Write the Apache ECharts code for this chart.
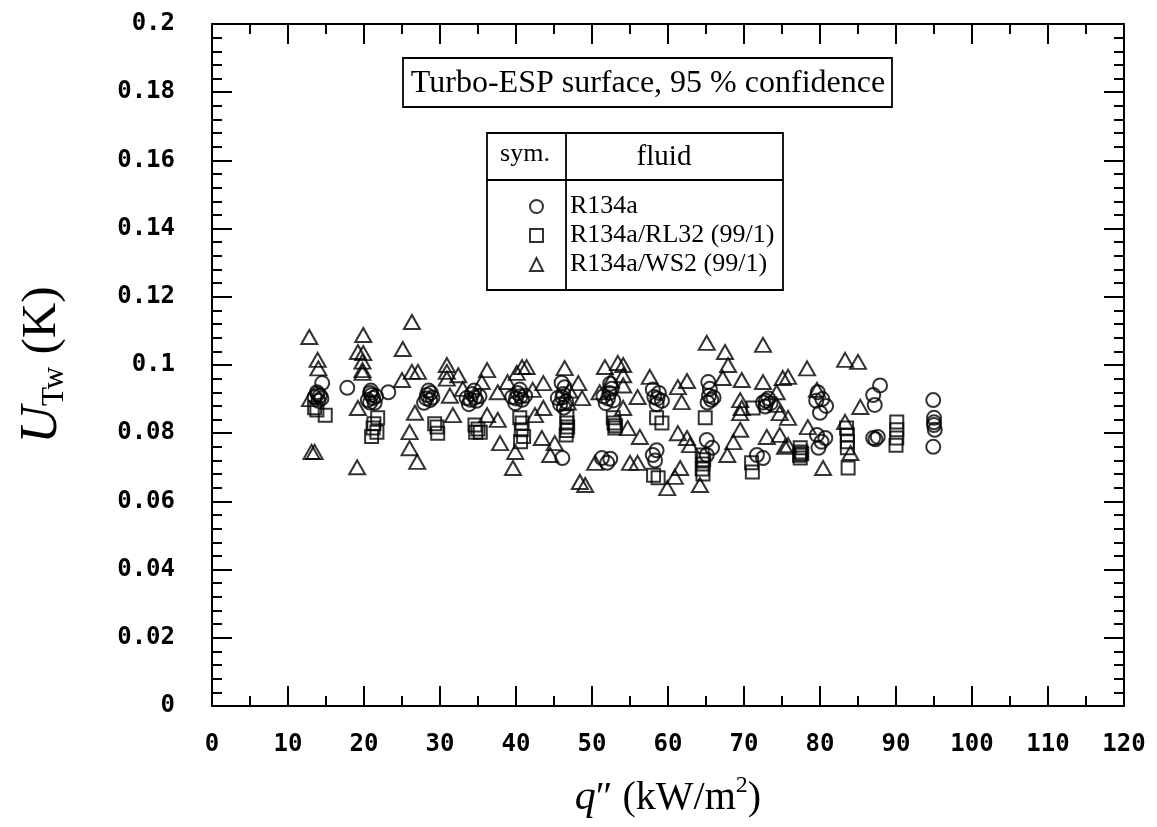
<!DOCTYPE html>
<html>
<head>
<meta charset="utf-8">
<script src="https://cdn.jsdelivr.net/npm/echarts/dist/echarts.min.js"></script>
<style>
  html, body { margin: 0; padding: 0; background: #fff; }
  #chart { width: 1157px; height: 827px; }
</style>
</head>
<body>
<div id="chart"></div>
<script>
// x: q'' (kW/m2), y: U_Tw (K)
var r134a = [
  [13.8, 0.092], [14.2, 0.091], [13.5, 0.0906], [14.5, 0.0947], [14.0, 0.0895], [13.9, 0.0915], [14.4, 0.0902], [17.8, 0.0933],
  [20.8, 0.0918], [21.2, 0.0903], [20.8, 0.089], [21.4, 0.0889], [21.0, 0.0912], [20.5, 0.0897], [21.6, 0.0908], [20.9, 0.0925],
  [23.2, 0.092], [28.3, 0.0912], [28.7, 0.0897], [27.9, 0.0889], [28.5, 0.0925], [29.0, 0.0905], [28.2, 0.0902], [28.8, 0.0918],
  [33.5, 0.0903], [34.2, 0.0915], [34.8, 0.0895], [33.8, 0.0885], [35.2, 0.0908], [34.5, 0.0925], [34.0, 0.0898], [34.6, 0.0905],
  [39.5, 0.0906], [40.2, 0.0918], [40.8, 0.0898], [39.9, 0.0888], [41.2, 0.091], [40.5, 0.0928], [40.0, 0.0902], [40.6, 0.0908],
  [45.5, 0.0903], [46.2, 0.0915], [46.6, 0.0893], [45.8, 0.0885], [46.4, 0.0935], [46.0, 0.0948], [46.1, 0.0905], [46.3, 0.0875],
  [46.1, 0.0727],
  [51.5, 0.0908], [52.3, 0.0918], [52.8, 0.0896], [51.8, 0.0888], [52.6, 0.093], [52.1, 0.0902], [52.4, 0.0945],
  [51.3, 0.0727], [52.0, 0.0713], [52.4, 0.0725],
  [58.2, 0.0906], [58.8, 0.0918], [59.2, 0.0895], [58.5, 0.0885], [58.0, 0.0928], [58.6, 0.0902],
  [58.0, 0.0736], [58.5, 0.075], [58.3, 0.072],
  [65.3, 0.095], [65.5, 0.093], [65.4, 0.091], [65.2, 0.089], [66.0, 0.0905], [65.7, 0.0898],
  [65.1, 0.078], [65.8, 0.0757], [65.1, 0.0736],
  [72.5, 0.089], [73.2, 0.0902], [72.8, 0.0878], [73.5, 0.0888], [72.9, 0.0895],
  [71.7, 0.0736], [72.5, 0.0727],
  [79.7, 0.092], [80.3, 0.09], [80.8, 0.088], [80.0, 0.086], [79.5, 0.0895],
  [79.6, 0.0795], [80.7, 0.0786], [79.8, 0.0757], [80.2, 0.0775],
  [87.9, 0.094], [87.0, 0.0912], [87.2, 0.0883], [87.0, 0.0786], [87.6, 0.0789], [87.3, 0.0782],
  [94.9, 0.0897], [95.0, 0.0845], [95.0, 0.0824], [95.1, 0.081], [94.9, 0.076], [95.0, 0.0832]
];

var rl32 = [
  [13.8, 0.0868], [14.9, 0.0853], [13.5, 0.0875],
  [21.2, 0.0815], [21.7, 0.0803], [21.0, 0.079], [21.8, 0.0845], [21.3, 0.0828],
  [29.6, 0.0818], [29.7, 0.08], [29.3, 0.0828],
  [34.6, 0.0824], [35.3, 0.0803], [34.7, 0.0803], [35.0, 0.0812],
  [40.5, 0.0845], [40.8, 0.083], [40.7, 0.081], [41.0, 0.079], [40.6, 0.0775],
  [46.7, 0.0848], [46.7, 0.083], [46.8, 0.0818], [46.6, 0.0795], [46.7, 0.0808],
  [52.8, 0.0845], [53.0, 0.0815], [52.9, 0.083], [53.1, 0.0822],
  [58.5, 0.0845], [59.2, 0.083],
  [58.1, 0.0677], [58.7, 0.0669],
  [64.9, 0.0845],
  [64.5, 0.0736], [64.6, 0.071], [64.5, 0.0695], [64.6, 0.068], [64.7, 0.0722],
  [71.0, 0.0713], [71.1, 0.0686], [71.2, 0.0874],
  [77.4, 0.0757], [77.4, 0.0727], [77.5, 0.0745], [77.3, 0.0735], [77.6, 0.074],
  [83.6, 0.0795], [83.6, 0.0775], [83.6, 0.0757], [83.7, 0.0698], [83.5, 0.0815],
  [90.1, 0.0833], [90.1, 0.081], [90.1, 0.0786], [90.0, 0.0765]
];

var ws2 = [
  [12.8, 0.1082], [13.9, 0.1015], [14.0, 0.099], [13.1, 0.0745], [13.5, 0.0745], [12.9, 0.09],
  [19.9, 0.1088], [19.2, 0.1038], [19.9, 0.1035], [19.8, 0.101], [19.8, 0.0985], [19.8, 0.0977],
  [19.2, 0.0874], [19.1, 0.07],
  [26.3, 0.1126], [25.1, 0.1047], [25.0, 0.0956], [26.3, 0.098], [27.1, 0.098], [26.0, 0.0803],
  [26.0, 0.0756], [27.0, 0.0716], [26.7, 0.086],
  [30.9, 0.1], [30.9, 0.098], [30.9, 0.096], [31.3, 0.091], [31.7, 0.0853],
  [32.4, 0.097], [33.0, 0.093], [36.2, 0.0985], [35.5, 0.095], [37.6, 0.092], [36.2, 0.0853],
  [37.6, 0.0839], [37.9, 0.0771], [39.9, 0.0745], [39.6, 0.0698],
  [40.8, 0.0994], [41.4, 0.0994], [40.1, 0.0977], [38.9, 0.095], [42.2, 0.0927], [43.6, 0.0947],
  [43.6, 0.0874], [42.5, 0.0853], [43.4, 0.0786], [45.1, 0.0771], [44.5, 0.0736],
  [46.4, 0.0991], [47.0, 0.0925], [46.8, 0.089], [48.2, 0.0947], [48.7, 0.0903], [51.7, 0.0994],
  [53.4, 0.1006], [52.5, 0.0955], [51.0, 0.092], [48.4, 0.0657], [49.1, 0.0648], [50.4, 0.0713],
  [54.1, 0.1], [54.1, 0.097], [54.1, 0.094], [56.0, 0.0906], [54.1, 0.0874], [54.7, 0.0815],
  [56.3, 0.0789], [55.0, 0.0713], [56.0, 0.0713],
  [57.6, 0.0965], [62.5, 0.0953], [61.3, 0.0935], [61.8, 0.0891], [61.3, 0.08], [62.5, 0.0786],
  [62.9, 0.0765], [61.6, 0.0698], [60.9, 0.0672], [59.9, 0.0639], [64.2, 0.0648],
  [65.1, 0.1065], [67.5, 0.1038], [72.5, 0.1059], [67.9, 0.1], [67.2, 0.0962], [69.7, 0.0956],
  [72.5, 0.095], [75.1, 0.0962],
  [69.5, 0.0897], [69.7, 0.0874], [69.5, 0.0859], [69.5, 0.081], [68.6, 0.0774], [67.8, 0.0736],
  [74.3, 0.092], [74.3, 0.0883], [74.7, 0.0859], [73.0, 0.0789], [74.7, 0.0795], [75.4, 0.076],
  [83.3, 0.1015], [85.0, 0.1009], [78.3, 0.099], [75.8, 0.0965], [85.3, 0.0877], [79.6, 0.0927],
  [83.3, 0.0833], [78.4, 0.0818], [75.8, 0.0845], [75.8, 0.0765], [80.4, 0.0698], [84.0, 0.0742]
];

var fluidNames = ["R134a", "R134a/RL32 (99/1)", "R134a/WS2 (99/1)"];
var boxTitle = "Turbo-ESP surface, 95 % confidence";

var serif = "'Liberation Serif', 'Times New Roman', serif";
var tickFont = "'DejaVu Sans Mono', monospace";

var chart = echarts.init(document.getElementById("chart"));

var hollow = {
  color: "transparent",
  borderColor: "#000",
  borderWidth: 2,
};

function axisBase(showLabel) {
  return {
    axisLine: { show: true, onZero: false, lineStyle: { color: "#000", width: 2 } },
    axisTick: { show: true, inside: true, length: 20, lineStyle: { color: "#000", width: 2 } },
    minorTick: { show: true, length: 10, lineStyle: { color: "#000", width: 2 } },
    splitLine: { show: false },
    axisLabel: {
      show: showLabel,
      color: "#000",
      fontFamily: tickFont,
      fontWeight: "bold",
      fontSize: 24,
    },
  };
}

var xBottom = Object.assign(axisBase(true), {
  type: "value",
  position: "bottom",
  min: 0,
  max: 120,
  interval: 10,
  name: "{q|q}{n|\u2033 (kW/m}{s|2}{n|)}",
  nameLocation: "middle",
  nameGap: 68,
  nameTextStyle: {
    rich: {
      q: { fontFamily: serif, fontStyle: "italic", fontSize: 42, color: "#000", lineHeight: 48 },
      n: { fontFamily: serif, fontSize: 40, color: "#000", lineHeight: 48 },
      s: { fontFamily: serif, fontSize: 24, color: "#000", lineHeight: 48, verticalAlign: "top", padding: [0, 0, 20, 0] },
    },
  },
});
xBottom.minorTick.splitNumber = 2;
xBottom.axisLabel.margin = 27;

var xTop = Object.assign(axisBase(false), {
  type: "value",
  position: "top",
  min: 0,
  max: 120,
  interval: 10,
});
xTop.minorTick.splitNumber = 2;

var yLeft = Object.assign(axisBase(true), {
  type: "value",
  position: "left",
  min: 0,
  max: 0.2,
  interval: 0.02,
  name: "{u|U}{s|Tw}{n| (K)}",
  nameLocation: "middle",
  nameGap: 142,
  nameTextStyle: {
    rich: {
      u: { fontFamily: serif, fontStyle: "italic", fontSize: 52, color: "#000", lineHeight: 56 },
      s: { fontFamily: serif, fontSize: 31, color: "#000", lineHeight: 56, verticalAlign: "bottom", padding: [18, 0, 0, 0] },
      n: { fontFamily: serif, fontSize: 49, color: "#000", lineHeight: 56 },
    },
  },
});
yLeft.minorTick.splitNumber = 5;
yLeft.axisLabel.margin = 37;

var yRight = Object.assign(axisBase(false), {
  type: "value",
  position: "right",
  min: 0,
  max: 0.2,
  interval: 0.02,
});
yRight.minorTick.splitNumber = 5;

chart.setOption({
  animation: false,
  backgroundColor: "#fff",
  grid: { left: 212, top: 24, right: 33, bottom: 121, containLabel: false },
  xAxis: [xBottom, xTop],
  yAxis: [yLeft, yRight],
  legend: {
    data: fluidNames,
    orient: "vertical",
    left: 524,
    top: 187,
    itemWidth: 13,
    itemHeight: 13,
    itemGap: 0,
    selectedMode: false,
    itemStyle: hollow,
    textStyle: {
      fontFamily: serif,
      fontSize: 26,
      color: "#000",
      lineHeight: 29,
      padding: [0, 0, 0, 22],
    },
  },
  graphic: [
    {
      type: "rect",
      shape: { x: 403, y: 58, width: 489, height: 49 },
      style: { fill: "#fff", stroke: "#000", lineWidth: 1.8 },
    },
    {
      type: "text",
      x: 648,
      y: 84,
      style: { text: boxTitle, font: "32px " + serif, fill: "#000", align: "center", verticalAlign: "middle" },
    },
    {
      type: "rect",
      shape: { x: 487, y: 133, width: 296, height: 157 },
      style: { fill: "none", stroke: "#000", lineWidth: 1.8 },
    },
    {
      type: "line",
      shape: { x1: 566, y1: 133, x2: 566, y2: 290 },
      style: { stroke: "#000", lineWidth: 1.8 },
    },
    {
      type: "line",
      shape: { x1: 487, y1: 180, x2: 783, y2: 180 },
      style: { stroke: "#000", lineWidth: 1.8 },
    },
    {
      type: "text",
      x: 525,
      y: 154,
      style: { text: "sym.", font: "26px " + serif, fill: "#000", align: "center", verticalAlign: "middle" },
    },
    {
      type: "text",
      x: 664,
      y: 157,
      style: { text: "fluid", font: "29px " + serif, fill: "#000", align: "center", verticalAlign: "middle" },
    },
  ],
  series: [
    {
      name: fluidNames[0],
      type: "scatter",
      symbol: "circle",
      symbolSize: 14,
      itemStyle: hollow,
      data: r134a,
    },
    {
      name: fluidNames[1],
      type: "scatter",
      symbol: "rect",
      symbolSize: 13,
      itemStyle: hollow,
      data: rl32,
    },
    {
      name: fluidNames[2],
      type: "scatter",
      symbol: "triangle",
      symbolSize: [16, 14],
      itemStyle: hollow,
      data: ws2,
    },
  ],
});
</script>
</body>
</html>
